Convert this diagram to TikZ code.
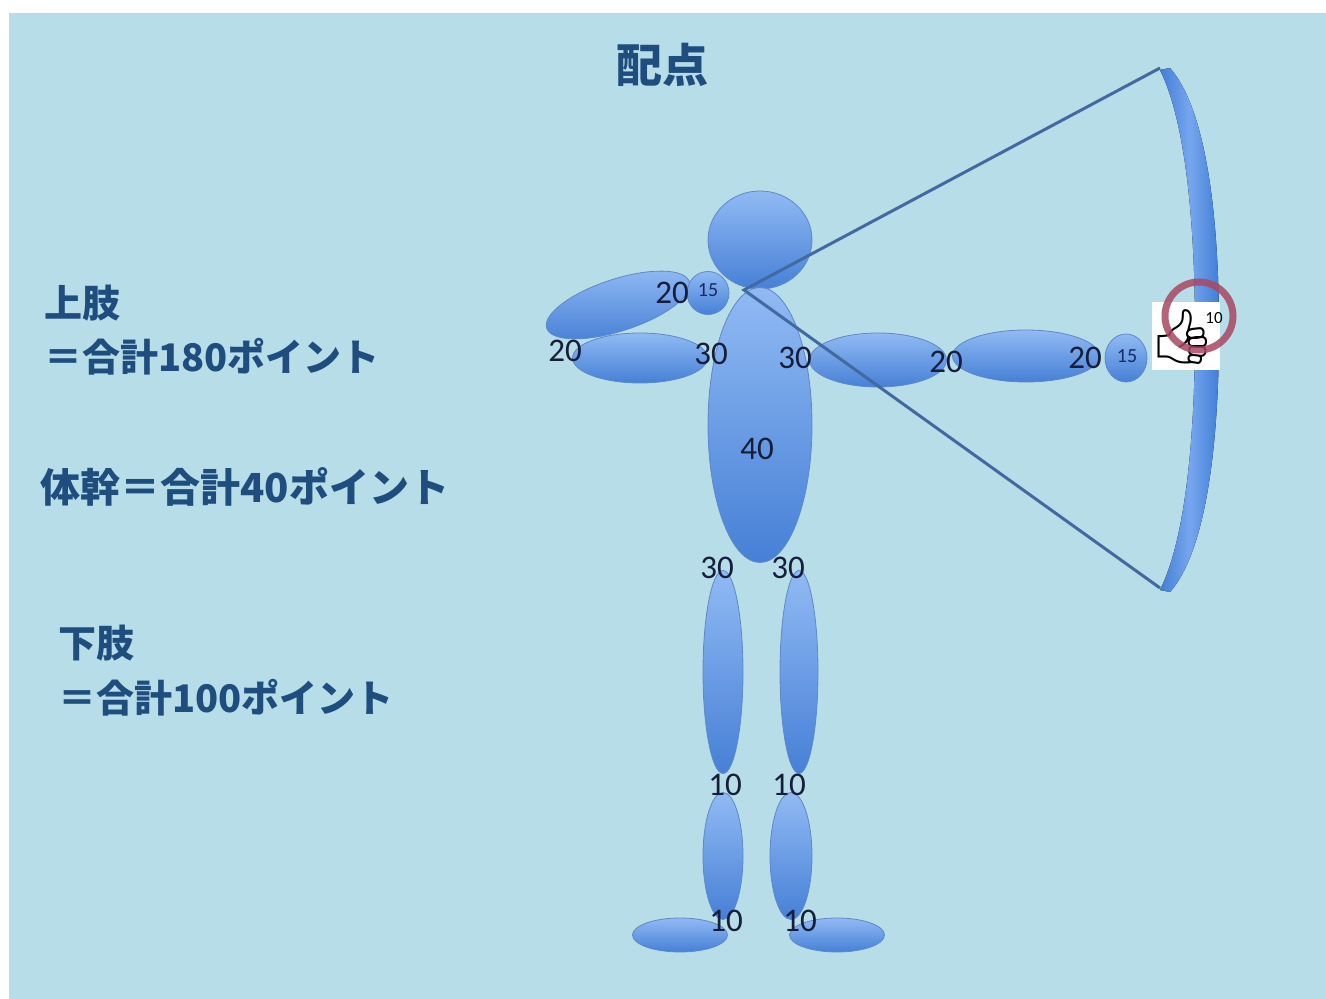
\documentclass[tikz,border=0pt]{standalone}
\usepackage{fontspec}
\setmainfont{Carlito}
\newfontfamily\jpfont{Noto Sans CJK JP}
\newfontfamily\emojifont{Noto Emoji}
\usepackage{tikz}
\usetikzlibrary{shapes,calc}
\definecolor{panelblue}{RGB}{183,221,232}
\definecolor{headingblue}{RGB}{31,77,125}
\definecolor{limbtop}{RGB}{145,186,244}
\definecolor{limbbottom}{RGB}{70,128,214}
\definecolor{limbedge}{RGB}{96,136,196}
\definecolor{bowdark}{RGB}{66,126,214}
\definecolor{bowlight}{RGB}{118,166,238}
\definecolor{stringblue}{RGB}{66,106,160}
\definecolor{ringred}{RGB}{168,72,98}
\definecolor{scoreink}{RGB}{22,30,58}
\definecolor{ballink}{RGB}{20,42,105}

\begin{document}
\begin{tikzpicture}[x=0.5pt, y=-0.5pt,
        limb/.style={ellipse, draw=limbedge, line width=0.4pt, top color=limbtop, bottom color=limbbottom, inner sep=0pt},
        score/.style={font=\fontsize{16.5}{16.5}\selectfont, text=scoreink, inner sep=0pt},
        ballscore/.style={font=\fontsize{10}{10}\selectfont, text=ballink, inner sep=0pt},
        heading/.style={font=\jpfont\bfseries\fontsize{19}{19}\selectfont, text=headingblue, anchor=west, inner sep=0pt}]
        \useasboundingbox (0,0) rectangle (1326,999);
        \fill[white] (0,0) rectangle (1326,999);
        \fill[panelblue] (9,13) rectangle (1326,999);

        \node[font=\jpfont\bfseries\fontsize{23}{23}\selectfont, text=headingblue, inner sep=0pt] (title) at (662,65) {配点};
        \node[heading] (armhead) at (44,303) {上肢};
        \node[heading] (armsum) at (44,357) {＝合計180ポイント};
        \node[heading, font=\jpfont\bfseries\fontsize{20}{20}\selectfont] (trunksum) at (40,487) {体幹＝合計40ポイント};
        \node[heading] (leghead) at (58,643) {下肢};
        \node[heading] (legsum) at (58,698) {＝合計100ポイント};

        % bow limb
        \fill[left color=bowdark, right color=bowdark, middle color=bowlight]
          (1160,70) -- (1170,68) .. controls (1207,110) and (1219,220) .. (1219,330)
          .. controls (1219,440) and (1207,550) .. (1170,592) -- (1160,590)
          .. controls (1185,540) and (1195,440) .. (1195,330)
          .. controls (1195,220) and (1185,120) .. (1160,70) -- cycle;
        \coordinate (bowtop) at (1160,68);
        \coordinate (bowbottom) at (1160,588);
        \coordinate (nock) at (744,290);

        % figure
        \node[limb, minimum width=52pt, minimum height=49pt] (head) at (760,240) {};
        \node[limb, minimum width=52pt, minimum height=137.5pt] (torso) at (760,425) {};
        \node[limb, minimum width=75pt, minimum height=26pt, rotate=18] (lupper) at (618,305) {};
        \node[limb, minimum width=67.5pt, minimum height=25pt] (lfore) at (640,358) {};
        \node[limb, minimum width=21pt, minimum height=21.5pt] (lball) at (708,293) {};
        \node[limb, minimum width=68.5pt, minimum height=27pt] (rupper) at (878,360) {};
        \node[limb, minimum width=73.5pt, minimum height=26pt] (rfore) at (1026,356) {};
        \node[limb, minimum width=21pt, minimum height=24pt] (rball) at (1126,358) {};
        \node[limb, minimum width=20pt, minimum height=101.5pt] (lthigh) at (723,672) {};
        \node[limb, minimum width=19pt, minimum height=101.5pt] (rthigh) at (799,672) {};
        \node[limb, minimum width=20pt, minimum height=63.5pt] (lshin) at (723,856) {};
        \node[limb, minimum width=21pt, minimum height=63.5pt] (rshin) at (791,856) {};
        \node[limb, minimum width=47.5pt, minimum height=17pt] (lfoot) at (680,935) {};
        \node[limb, minimum width=47.5pt, minimum height=17pt] (rfoot) at (837,935) {};

        \draw[stringblue, line width=1.5pt] (bowtop) -- (nock) -- (bowbottom);

        \foreach \px/\py/\val [count=\i] in {672/293/20, 565/351/20, 711/354/30, 795/358/30,
            946/362/20, 1085/358/20, 757/449/40, 717/568/30, 788/568/30,
            725/785/10, 789/785/10, 726/921/10, 800/921/10}
          \node[score] (score\i) at (\px,\py) {\val};
        \node[ballscore] (lballval) at (708,290) {15};
        \node[ballscore] (rballval) at (1127,356) {15};

        % hand on the grip
        \node[fill=white, minimum width=34pt, minimum height=34pt, inner sep=0pt] (handbox) at (1186,336) {};
        \node[font=\emojifont\fontsize{27}{27}\selectfont, inner sep=0pt] (thumb) at (1183,337) {👍};
        \node[circle, draw=ringred, draw opacity=0.85, line width=3.5pt, minimum size=34pt, inner sep=0pt] (ring) at (1199,316) {};
        \node[font=\fontsize{8.5}{8.5}\selectfont, text=black, inner sep=0pt] (ringval) at (1214,318) {10};
      \end{tikzpicture}
\end{document}
